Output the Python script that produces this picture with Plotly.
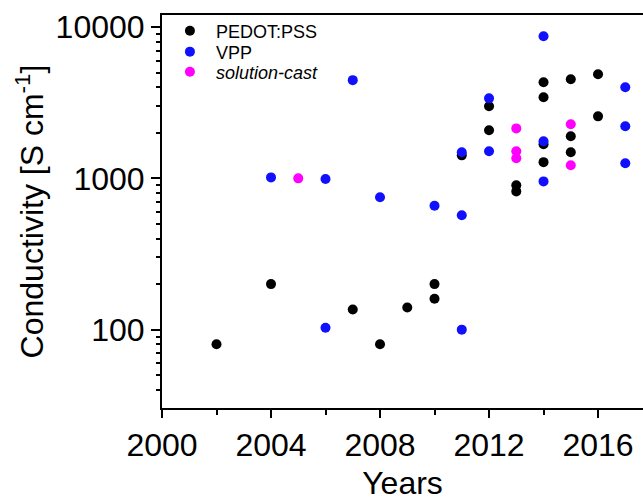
import plotly.graph_objects as go

# Conductivity of PEDOT films by year of report
pedot_years = [2002, 2004, 2007, 2008, 2009, 2010, 2010, 2011, 2012, 2012, 2013, 2013,
               2014, 2014, 2014, 2014, 2015, 2015, 2015, 2016, 2016]
pedot_values = [80, 200, 136, 80, 140, 200, 160, 1420, 3000, 2080, 900, 820,
                4320, 3440, 1680, 1280, 4520, 1900, 1490, 4880, 2570]

vpp_years = [2004, 2006, 2006, 2007, 2008, 2010, 2011, 2011, 2011, 2012, 2012,
             2014, 2014, 2014, 2017, 2017, 2017]
vpp_values = [1015, 990, 103, 4460, 750, 660, 570, 100, 1490, 3380, 1510,
              8700, 1760, 955, 4000, 2210, 1260]

cast_years = [2005, 2013, 2013, 2013, 2015, 2015]
cast_values = [1000, 2140, 1510, 1360, 2280, 1220]

x_tick_vals = [2000, 2004, 2008, 2012, 2016]
y_tick_vals = [100, 1000, 10000]
y_tick_text = ["100", "1000", "10000"]

FONT = "Liberation Sans, Arial, sans-serif"
Y_RANGE = [1.482, 4.08]

# minor ticks at 2..9 within each decade of the log axis
y_minor = [m * 10 ** e for e in range(1, 4) for m in range(2, 10) if m * 10 ** e >= 30]

fig = go.Figure()
series = [
    ("PEDOT:PSS", pedot_years, pedot_values, "#000000", "legend"),
    ("VPP", vpp_years, vpp_values, "#1010ff", "legend2"),
    ("<i>solution-cast</i>", cast_years, cast_values, "#ff00ff", "legend3"),
]
for name, xs, ys, color, leg in series:
    fig.add_trace(go.Scatter(
        x=xs, y=ys, mode="markers", name=name, legend=leg,
        marker=dict(size=10, color=color, line=dict(width=0)),
    ))

# empty trace so the overlaid minor-tick axis gets drawn
fig.add_trace(go.Scatter(x=[], y=[], yaxis="y2", showlegend=False,
                         hoverinfo="skip"))

legend_style = dict(x=0.004, xanchor="left", yanchor="middle",
                    bgcolor="rgba(0,0,0,0)", font=dict(size=18, family=FONT),
                    itemwidth=42)

fig.update_layout(
    width=643, height=501,
    margin=dict(l=162, r=0, t=15, b=93),
    paper_bgcolor="white", plot_bgcolor="white",
    font=dict(family=FONT, color="black", size=32),
    showlegend=True,
    legend=dict(y=0.959, **legend_style),
    legend2=dict(y=0.906, **legend_style),
    legend3=dict(y=0.855, **legend_style),
    xaxis=dict(
        range=[2000, 2017.65], tickvals=x_tick_vals, automargin=False,
        ticks="outside", ticklen=8, tickwidth=2, tickcolor="black",
        showline=True, linewidth=2, linecolor="black", mirror=True,
        showgrid=False, zeroline=False,
        minor=dict(tickvals=[2002, 2006, 2010, 2014], ticks="outside",
                   ticklen=5, tickwidth=2, tickcolor="black", showgrid=False),
        title=dict(text="Years", standoff=27, font=dict(size=32)),
        tickfont=dict(size=32),
    ),
    yaxis=dict(
        type="log", range=Y_RANGE, automargin=False,
        tickvals=y_tick_vals, ticktext=y_tick_text,
        ticks="outside", ticklen=9, tickwidth=2, tickcolor="black",
        showline=True, linewidth=2, linecolor="black", mirror=False,
        showgrid=False, zeroline=False,
        title=dict(text="Conductivity [S cm<sup>-1</sup>]", standoff=2,
                   font=dict(size=32)),
        tickfont=dict(size=32),
    ),
    # overlaid axis carrying only the short minor ticks of each decade
    yaxis2=dict(
        type="log", range=Y_RANGE, overlaying="y", side="left",
        anchor="x", automargin=False,
        tickvals=y_minor, showticklabels=False,
        ticks="outside", ticklen=5, tickwidth=1.5, tickcolor="black",
        showline=False, showgrid=False, zeroline=False,
    ),
)

fig.write_html("out.html")
